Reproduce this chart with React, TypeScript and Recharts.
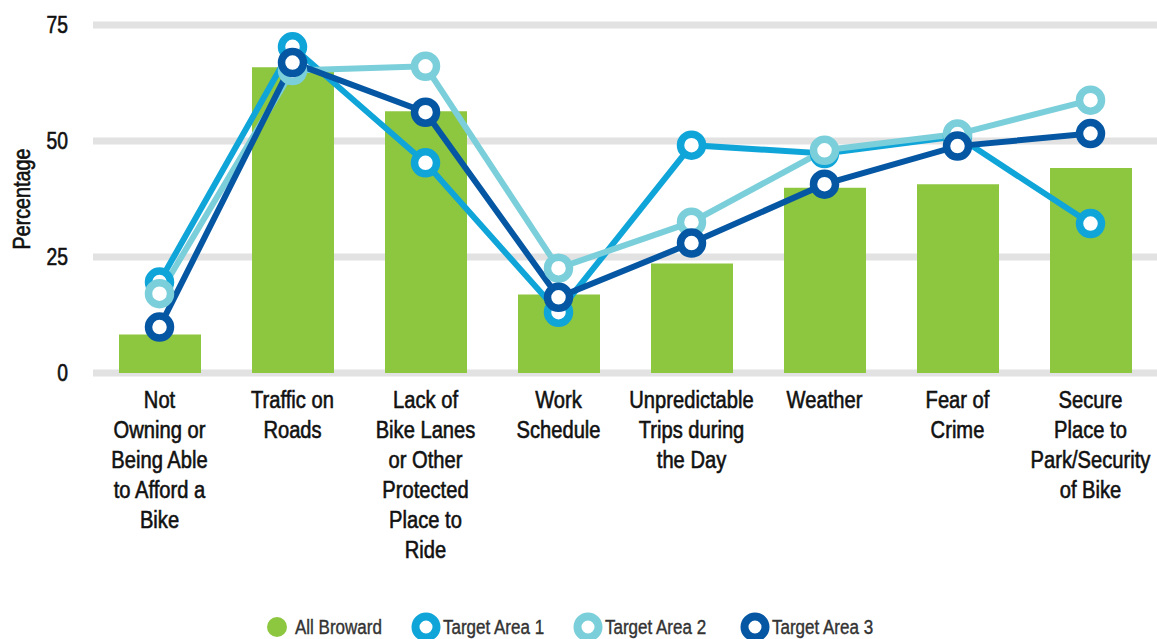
import { ComposedChart, Bar, Line, XAxis, YAxis, CartesianGrid, Legend, Label } from 'recharts'

// no condensed face is installed, so Liberation Sans gets squeezed horizontally
const FONT = "'Liberation Sans', Arial, sans-serif"
const SQUEEZE = 0.84

const categories = [
  'Not\nOwning or\nBeing Able\nto Afford a\nBike',
  'Traffic on\nRoads',
  'Lack of\nBike Lanes\nor Other\nProtected\nPlace to\nRide',
  'Work\nSchedule',
  'Unpredictable\nTrips during\nthe Day',
  'Weather',
  'Fear of\nCrime',
  'Secure\nPlace to\nPark/Security\nof Bike',
]

const allBroward = [8.3, 65.9, 56.4, 16.9, 23.6, 39.9, 40.7, 44.2]
const targetArea1 = [19.6, 70.3, 45.3, 13.1, 49.1, 47.3, 51.0, 32.2]
const targetArea2 = [17.1, 65.2, 66.1, 22.6, 32.5, 48.0, 51.5, 58.8]
const targetArea3 = [9.9, 66.9, 56.2, 16.3, 28.0, 40.7, 48.9, 51.6]

const yTicks = [0, 25, 50, 75]

const GREEN = '#8dc63f'
const TA1 = '#10a5d9'
const TA2 = '#7bcfda'
const TA3 = '#0657a3'

const data = categories.map((name, i) => ({
  name,
  all: allBroward[i],
  ta1: targetArea1[i],
  ta2: targetArea2[i],
  ta3: targetArea3[i],
}))

// thin stroke to get closer to the heavier gothic face of the original
const heavy = { stroke: '#111', strokeWidth: 0.6 }

const CategoryTick = (props: any) => {
  const { x, y, payload } = props
  const lines = String(payload.value).split('\n')
  return (
    <g transform={`translate(${x},${y}) scale(${SQUEEZE},1)`}>
      <text x={0} y={0} textAnchor="middle" fontSize={24} fill="#111" fontFamily={FONT} {...heavy}>
        {lines.map((l, i) => (
          <tspan key={i} x={0} dy={i === 0 ? 35.3 : 30}>
            {l}
          </tspan>
        ))}
      </text>
    </g>
  )
}

const ValueTick = (props: any) => {
  const { x, y, payload } = props
  return (
    <g transform={`translate(${x},${y}) scale(${SQUEEZE},1)`}>
      <text x={0} y={0} dy="0.355em" textAnchor="end" fontSize={23} fill="#111" fontFamily={FONT} {...heavy}>
        {payload.value}
      </text>
    </g>
  )
}

const Ring = ({ color }: { color: string }) => (
  <svg width={30} height={30} style={{ display: 'block' }}>
    <circle cx={15} cy={15} r={10.5} fill="#fff" stroke={color} strokeWidth={8} />
  </svg>
)

const legendItems = [
  { label: 'Target Area 1', color: TA1, left: 411 },
  { label: 'Target Area 2', color: TA2, left: 573 },
  { label: 'Target Area 3', color: TA3, left: 740 },
]

const squeezed = {
  display: 'inline-block',
  transform: 'scaleX(0.85)',
  transformOrigin: 'left center',
  whiteSpace: 'nowrap' as const,
  WebkitTextStroke: '0.4px #333',
}

const LegendBox = () => (
  <div style={{ position: 'relative', height: 36, fontFamily: FONT, fontSize: 20, color: '#333' }}>
    <div style={{ position: 'absolute', left: 267, top: 14, width: 20, height: 20, borderRadius: 10, background: GREEN }} />
    <div style={{ position: 'absolute', left: 295, top: 12, lineHeight: '24px' }}>
      <span style={squeezed}>All Broward</span>
    </div>
    {legendItems.map((it) => (
      <div key={it.label} style={{ position: 'absolute', left: it.left, top: 9, display: 'flex', alignItems: 'center' }}>
        <Ring color={it.color} />
        <span style={{ ...squeezed, marginLeft: 2, lineHeight: '24px' }}>{it.label}</span>
      </div>
    ))}
  </div>
)

export default function App() {
  return (
    <div style={{ position: 'absolute', left: 0, top: 0, width: 1157, height: 639, background: '#fff', fontFamily: FONT }}>
      <ComposedChart width={1157} height={639} data={data} margin={{ top: 25, right: 0, bottom: 0, left: 0 }}>
        <CartesianGrid horizontal vertical={false} stroke="#e2e2e2" strokeWidth={7} />
        <XAxis
          dataKey="name"
          interval={0}
          axisLine={false}
          tickLine={false}
          tickSize={0}
          tickMargin={0}
          height={230}
          tick={<CategoryTick />}
        />
        <YAxis
          domain={[0, 75]}
          ticks={yTicks}
          width={93}
          axisLine={false}
          tickLine={false}
          tickSize={0}
          tickMargin={25}
          tick={<ValueTick />}
        >
          <Label
            content={(p: any) => {
              const vb = p.viewBox || { x: 0, y: 25, height: 348 }
              const cx = vb.x + 22
              const cy = vb.y + vb.height / 2
              return (
                <g transform={`translate(${cx},${cy}) rotate(-90) scale(${SQUEEZE},1)`}>
                  <text x={0} y={0} textAnchor="middle" dominantBaseline="central" fontSize={23.5} fill="#111" fontFamily={FONT} {...heavy}>
                    Percentage
                  </text>
                </g>
              )
            }}
          />
        </YAxis>
        <Legend verticalAlign="bottom" wrapperStyle={{ left: 0, width: 1157, height: 36 }} content={() => <LegendBox />} />
        <Bar dataKey="all" name="All Broward" fill={GREEN} barSize={82} isAnimationActive={false} />
        <Line type="linear" dataKey="ta1" name="Target Area 1" stroke={TA1} strokeWidth={6} dot={{ r: 11, fill: '#fff', stroke: TA1, strokeWidth: 7.5 }} activeDot={false} isAnimationActive={false} />
        <Line type="linear" dataKey="ta2" name="Target Area 2" stroke={TA2} strokeWidth={6} dot={{ r: 11, fill: '#fff', stroke: TA2, strokeWidth: 7.5 }} activeDot={false} isAnimationActive={false} />
        <Line type="linear" dataKey="ta3" name="Target Area 3" stroke={TA3} strokeWidth={6} dot={{ r: 11, fill: '#fff', stroke: TA3, strokeWidth: 7.5 }} activeDot={false} isAnimationActive={false} />
      </ComposedChart>
    </div>
  )
}
